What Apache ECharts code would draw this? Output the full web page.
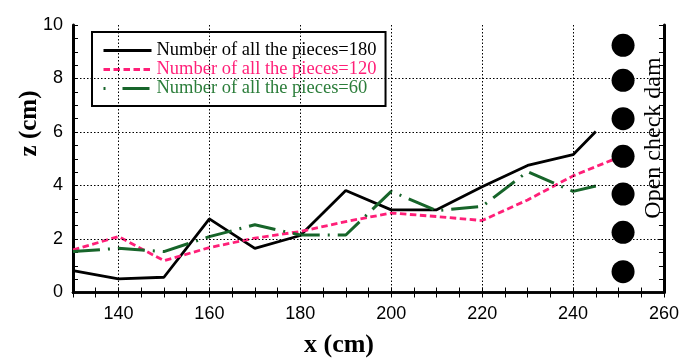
<!DOCTYPE html>
<html>
<head>
<meta charset="utf-8">
<script src="https://cdn.jsdelivr.net/npm/echarts@6/dist/echarts.min.js"></script>
<style>
  html, body { margin: 0; padding: 0; background: #fff; }
  #main { width: 682px; height: 358px; }
</style>
</head>
<body>
<div id="main"></div>
<script>
// x positions (cm) and bed height z (cm)
const x180 = [130, 140, 150, 160, 170, 180, 190, 200, 210, 220, 230, 240, 245]
const z180 = [0.82, 0.51, 0.57, 2.75, 1.65, 2.13, 3.81, 3.09, 3.09, 3.95, 4.75, 5.15, 6.02]

const x120 = [130, 140, 150, 160, 170, 180, 190, 200, 210, 220, 230, 240, 250]
const z120 = [1.59, 2.09, 1.19, 1.68, 2.03, 2.28, 2.65, 2.97, 2.84, 2.69, 3.46, 4.36, 5.05]

const x60 = [130, 140, 150, 160, 170, 180, 190, 200, 210, 220, 230, 240, 245]
const z60 = [1.53, 1.65, 1.53, 2.09, 2.53, 2.15, 2.15, 3.78, 3.06, 3.22, 4.52, 3.78, 3.98]

// open check dam pieces
const damX = 251
const damZ = [9.24, 7.93, 6.5, 5.09, 3.68, 2.25, 0.78]

// dotted grid lines
const gridX = [140, 160, 180, 200, 220, 240]
const gridZ = [2, 4, 6, 8]

const names = ['Number of all the pieces=180', 'Number of all the pieces=120', 'Number of all the pieces=60']

const pink = '#ff1f78'
const green = '#17652a'

const pair = (xs, zs) => xs.map((x, i) => [x, zs[i]])

const myChart = echarts.init(document.getElementById('main'))

const tickFont = { fontFamily: 'Liberation Sans', fontSize: 18, color: '#000' }

let option = {
  animation: false,
  backgroundColor: '#fff',
  grid: { left: 73, right: 14, top: 25, bottom: 65.5 },
  legend: {
    orient: 'vertical',
    left: 92,
    top: 32,
    padding: [9, 9, 8, 10],
    itemWidth: 48,
    itemHeight: 14,
    itemGap: 0,
    borderColor: '#000',
    borderWidth: 2,
    backgroundColor: '#fff',
    textStyle: { fontFamily: 'Liberation Serif', fontSize: 18.5, lineHeight: 18 },
    data: [
      {
        name: names[0], textStyle: { color: '#000' },
        itemStyle: { opacity: 0 }, lineStyle: { width: 3 }
      },
      {
        name: names[1], textStyle: { color: pink },
        itemStyle: { opacity: 0 }, lineStyle: { width: 3, type: [6.5, 3.5] }
      },
      {
        name: names[2], textStyle: { color: '#2b7d3a' },
        itemStyle: { opacity: 0 }, lineStyle: { width: 3, type: [2, 17, 27, 10] }
      }
    ]
  },
  xAxis: [
    {
      type: 'value', min: 130, max: 260, interval: 5,
      axisLine: { lineStyle: { color: '#000', width: 2.5 } },
      axisTick: { inside: true, length: 5, lineStyle: { color: '#000', width: 1 } },
      axisLabel: {
        ...tickFont, margin: 13,
        formatter: v => (v % 20 === 0 && v > 130) ? String(v) : ''
      },
      splitLine: { show: false }
    },
    {
      type: 'value', min: 130, max: 260, interval: 5, position: 'top',
      axisLine: { lineStyle: { color: '#000', width: 2.5 } },
      axisTick: { inside: true, length: 5, lineStyle: { color: '#000', width: 1 } },
      axisLabel: { show: false },
      splitLine: { show: false }
    }
  ],
  yAxis: [
    {
      type: 'value', min: 0, max: 10, interval: 0.5,
      axisLine: { show: true, lineStyle: { color: '#000', width: 3 } },
      axisTick: { show: true, inside: true, length: 5, lineStyle: { color: '#000', width: 1 } },
      axisLabel: {
        ...tickFont, margin: 10,
        formatter: v => (v % 2 === 0) ? String(v) : ''
      },
      splitLine: { show: false }
    },
    {
      type: 'value', min: 0, max: 10, interval: 0.5, position: 'right',
      axisLine: { show: true, lineStyle: { color: '#000', width: 3 } },
      axisTick: { show: true, inside: true, length: 5, lineStyle: { color: '#000', width: 1 } },
      axisLabel: { show: false },
      splitLine: { show: false }
    }
  ],
  series: [
    {
      // only carries the dotted grid
      name: 'grid',
      type: 'line',
      data: [],
      silent: true,
      markLine: {
        silent: true,
        symbol: 'none',
        label: { show: false },
        lineStyle: { color: '#000', width: 1, type: [1.5, 2] },
        data: gridX.map(v => ({ xAxis: v })).concat(gridZ.map(v => ({ yAxis: v })))
      }
    },
    {
      name: names[0],
      type: 'line',
      symbol: 'none',
      data: pair(x180, z180),
      lineStyle: { color: '#000', width: 2.8 },
      itemStyle: { color: '#000' }
    },
    {
      name: names[1],
      type: 'line',
      symbol: 'none',
      data: pair(x120, z120),
      lineStyle: { color: pink, width: 2.8, type: [6.5, 3.5] },
      itemStyle: { color: pink }
    },
    {
      name: names[2],
      type: 'line',
      symbol: 'none',
      data: pair(x60, z60),
      lineStyle: { color: green, width: 3, type: [27, 8, 2, 8] },
      itemStyle: { color: green }
    },
    {
      name: 'dam',
      type: 'scatter',
      z: 5,
      symbol: 'circle',
      symbolSize: 23,
      itemStyle: { color: '#000', opacity: 1 },
      data: damZ.map(z => [damX, z])
    }
  ],
  graphic: [
    {
      type: 'text', x: 339, y: 345,
      style: { text: 'x (cm)', fontFamily: 'Liberation Serif', fontWeight: 'bold', fontSize: 26, fill: '#000', align: 'center', verticalAlign: 'middle' }
    },
    {
      type: 'text', x: 30, y: 123.5, rotation: Math.PI / 2,
      style: { text: 'z (cm)', fontFamily: 'Liberation Serif', fontWeight: 'bold', fontSize: 25, fill: '#000', align: 'center', verticalAlign: 'middle' }
    },
    {
      type: 'text', x: 654, y: 138, rotation: Math.PI / 2,
      style: { text: 'Open check dam', fontFamily: 'Liberation Serif', fontSize: 24, fill: '#000', align: 'center', verticalAlign: 'middle' }
    }
  ]
}

option && myChart.setOption(option)
</script>
</body>
</html>
